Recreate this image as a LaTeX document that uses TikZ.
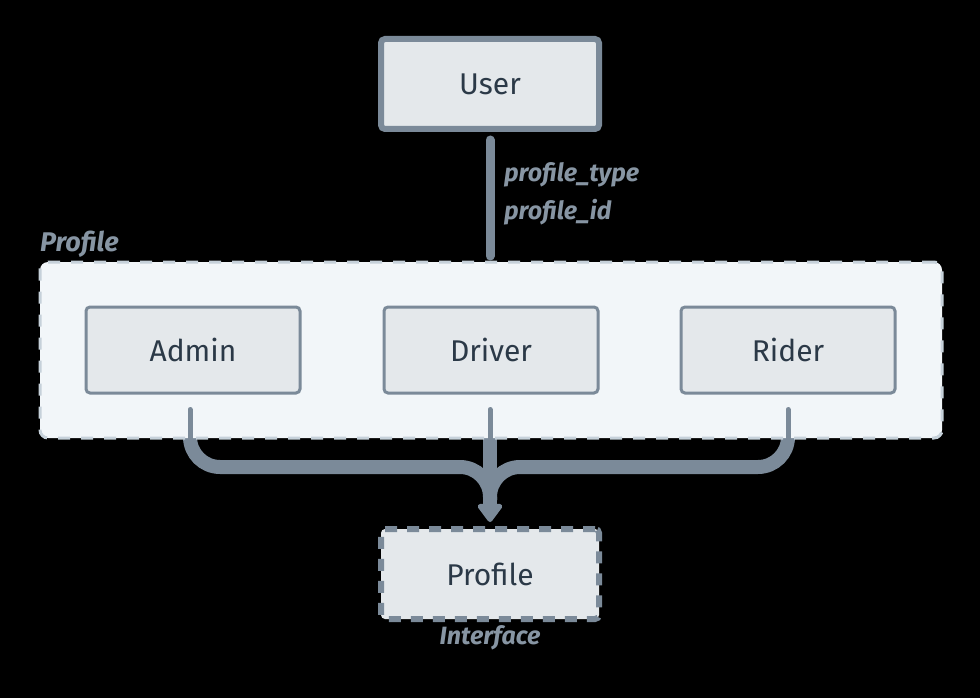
\documentclass[tikz,border=0pt]{standalone}
\usepackage{fontspec}
\setmainfont{Fira Sans}
\usetikzlibrary{arrows.meta}
\definecolor{bord}{HTML}{7B8A99}
\definecolor{boxfill}{HTML}{E4E8EB}
\definecolor{contfill}{HTML}{F2F6F9}
\definecolor{contdash}{HTML}{C6D1DA}
\definecolor{txt}{HTML}{2B3947}
\definecolor{lbl}{HTML}{8795A3}
\tikzset{
  entity/.style={draw=bord, fill=boxfill, rounded corners=4pt, minimum width=214pt, minimum height=86pt, line width=3pt, text=txt, font=\fontsize{30}{36}\selectfont, inner sep=0pt},
  bigentity/.style={entity, minimum width=218pt, minimum height=90pt, line width=6pt},
  lbltext/.style={text=lbl, font=\fontsize{25}{30}\selectfont\bfseries\itshape, inner sep=0pt},
  thinconn/.style={draw=bord, line width=5pt, line cap=round},
  thickconn/.style={draw=bord, line width=14pt, line cap=round, line join=round},
}
\begin{document}
\begin{tikzpicture}[x=1pt,y=-1pt]
\fill[black] (0,0) rectangle (980,698);
\useasboundingbox (0,0) rectangle (980,698);
% thick merging connectors (behind container)
\coordinate (ja) at (190,420);
\coordinate (jd) at (490,420);
\coordinate (jr) at (788,420);
\coordinate (tip) at (490,522);
\draw[thickconn, rounded corners=30pt] (ja) -- (190,467) -- (490,467) -- (490,500);
\draw[thickconn, rounded corners=30pt] (jr) -- (788,467) -- (490,467) -- (490,500);
\draw[thickconn] (jd) -- (490,500);
\draw[draw=bord, line width=14pt, -{Triangle[length=20pt,width=28pt,round]}] (490,490) -- (tip);
% container
\node[draw=contdash, fill=contfill, line width=3pt, dash pattern=on 12pt off 11pt, rounded corners=8pt, minimum width=902pt, minimum height=176pt, inner sep=0pt] (cont) at (491,350) {};
\node[lbltext, anchor=west, font=\fontsize{27}{30}\selectfont\bfseries\itshape] (contlbl) at (40,244) {Profile};
% nodes
\node[bigentity] (user) at (490,84) {User};
\node[entity] (admin) at (193,350) {Admin};
\node[entity] (driver) at (491,350) {Driver};
\node[entity] (rider) at (788,350) {Rider};
\node[bigentity, dash pattern=on 12pt off 10pt] (prof) at (490,574) {Profile};
\node[lbltext] (iface) at (490,638) {Interface};
% user connector
\coordinate (ue) at (490,256);
\draw[draw=bord, line width=9pt, line cap=round] (user.south) ++(0,8) -- (ue);
\node[lbltext, anchor=west] (ptype) at (504,175) {profile\_type};
\node[lbltext, anchor=west] (pid) at (504,212) {profile\_id};
% thin connectors inside container
\draw[thinconn] (admin.south) ++(-3,15) -- (190,440);
\draw[thinconn] (driver.south) ++(-1,15) -- (490,440);
\draw[thinconn] (rider.south) ++(0,15) -- (788,440);
\end{tikzpicture}
\end{document}
